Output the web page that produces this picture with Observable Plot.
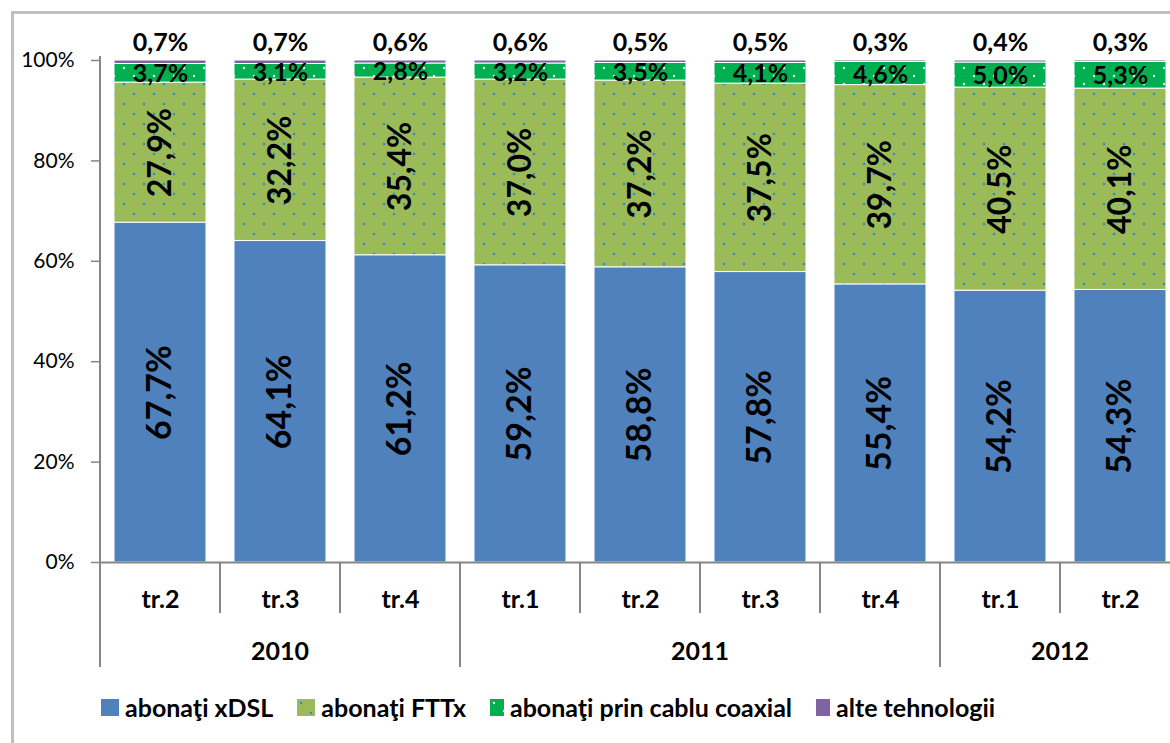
<!DOCTYPE html>
<html><head><meta charset="utf-8">
<script src="https://cdn.jsdelivr.net/npm/d3@7"></script>
<script src="https://cdn.jsdelivr.net/npm/@observablehq/plot@0.6"></script>
<style>
body{margin:0;background:#fff;font-family:Lato,"Open Sans",sans-serif;}
#wrap{position:relative;width:1170px;height:743px;overflow:hidden;background:#fff}
#frame{position:absolute;left:11px;top:11px;width:1220px;height:800px;border:3px solid #bfbfbf;box-sizing:border-box;pointer-events:none}
#chart{position:absolute;left:0;top:0}
#legend{position:absolute;top:692px;left:101px;height:30px;display:flex;align-items:center;gap:24px;font-weight:bold;font-size:25px;color:#000;white-space:nowrap}
.item{display:flex;align-items:center;gap:6px}
.item svg{display:block}
</style></head>
<body><div id="wrap"><div id="chart"></div><div id="legend"></div><div id="frame"></div></div>
<script>
// ---- data ----
const years = ["2010","2010","2010","2011","2011","2011","2011","2012","2012"];
const quarters = ["tr.2","tr.3","tr.4","tr.1","tr.2","tr.3","tr.4","tr.1","tr.2"];
const series = ["abonaţi xDSL","abonaţi FTTx","abonaţi prin cablu coaxial","alte tehnologii"];
const xdsl  = [67.7,64.1,61.2,59.2,58.8,57.8,55.4,54.2,54.3];
const fttx  = [27.9,32.2,35.4,37.0,37.2,37.5,39.7,40.5,40.1];
const coax  = [3.7,3.1,2.8,3.2,3.5,4.1,4.6,5.0,5.3];
const other = [0.7,0.7,0.6,0.6,0.5,0.5,0.3,0.4,0.3];
const yTicks = [0,0.2,0.4,0.6,0.8,1];
const seriesFill = ["#4f81bd","url(#pFttx)","url(#pCoax)","#8064a2"];

// ---- derived table ----
const keys = years.map((y,i) => y + " " + quarters[i]);
const valuesBySeries = [xdsl, fttx, coax, other];
const fmt = v => v.toFixed(1).replace(".", ",") + "%";
const rows = [];
keys.forEach((k,i) => {
  const total = valuesBySeries.reduce((s,arr) => s + arr[i], 0);
  let cum = 0;
  series.forEach((s,j) => {
    const v = valuesBySeries[j][i];
    rows.push({key:k, series:s, value:v, label:fmt(v), mid:(cum + v/2)/total, top:(cum + v)/total});
    cum += v;
  });
});
const bySeries = s => rows.filter(r => r.series === s);

const chart = Plot.plot({
  width: 1170, height: 680,
  marginLeft: 100, marginRight: 0, marginTop: 60, marginBottom: 118,
  style: {fontFamily: "Lato, 'Open Sans', sans-serif", background: "transparent", overflow: "visible"},
  x: {type: "band", domain: keys, range: [100, 1180], paddingInner: 0.233, paddingOuter: 0.1165},
  y: {domain: [0, 1]},
  color: {type: "ordinal", domain: series, range: seriesFill},
  marks: [
    Plot.barY(rows, Plot.stackY({x: "key", y: "value", fill: "series", order: series, offset: "normalize", stroke: "white", strokeWidth: 1})),
    Plot.ruleY([0], {stroke: "#868686", strokeWidth: 2}),
    Plot.axisY({ticks: yTicks, tickFormat: d => Math.round(d*100) + "%", tickSize: 9, tickPadding: 17, fontSize: 21, stroke: "#868686", strokeWidth: 1.5, fill: "#000", label: null}),
    Plot.axisX({tickSize: 0, tickPadding: 28, fontSize: 25, fontWeight: "bold", fill: "#000", tickFormat: k => quarters[keys.indexOf(k)], label: null}),
    Plot.text(bySeries(series[0]), {x: "key", y: "mid", text: "label", rotate: -90, fontSize: 34, fontWeight: "bold"}),
    Plot.text(bySeries(series[1]), {x: "key", y: "mid", text: "label", rotate: -90, fontSize: 32, fontWeight: "bold"}),
    Plot.text(bySeries(series[2]), {x: "key", y: "mid", text: "label", dy: 1, fontSize: 25, fontWeight: "bold"}),
    Plot.text(bySeries(series[3]), {x: "key", y: "top", text: "label", dy: -18, fontSize: 25, fontWeight: "bold"})
  ]
});

// patterns
const svg = d3.select(chart);
const defs = svg.insert("defs", ":first-child");
const p1 = defs.append("pattern").attr("id","pFttx").attr("width",20).attr("height",20).attr("patternUnits","userSpaceOnUse");
p1.append("rect").attr("width",20).attr("height",20).attr("fill","#9bbb59");
p1.append("circle").attr("cx",4).attr("cy",4).attr("r",1.3).attr("fill","#3a87c8");
p1.append("circle").attr("cx",14).attr("cy",14).attr("r",1.3).attr("fill","#3a87c8");
const p2 = defs.append("pattern").attr("id","pCoax").attr("width",20).attr("height",16).attr("patternUnits","userSpaceOnUse");
p2.append("rect").attr("width",20).attr("height",16).attr("fill","#00b050");
p2.append("circle").attr("cx",4).attr("cy",4).attr("r",1.2).attr("fill","#e8f8ee");
p2.append("circle").attr("cx",14).attr("cy",12).attr("r",1.2).attr("fill","#e8f8ee");

// category axis furniture (separators, years) from Plot's scales
const xs = chart.scale("x"), ys = chart.scale("y");
const half = (xs.step - xs.bandwidth) / 2;
const boundary = i => i < keys.length ? xs.apply(keys[i]) - half : xs.apply(keys[keys.length-1]) + xs.bandwidth + half;
const y0 = ys.apply(0), y1 = ys.apply(1);
const g = svg.append("g").attr("stroke", "#868686").attr("stroke-width", 2);
g.append("line").attr("x1", boundary(0)).attr("x2", boundary(0)).attr("y1", y1 - 4).attr("y2", y0);
const groups = [];
years.forEach((y,i) => { if (!groups.length || groups[groups.length-1].year !== y) groups.push({year:y, start:i, end:i}); else groups[groups.length-1].end = i; });
groups.forEach(gr => {
  for (let i = gr.start + 1; i <= gr.end; i++)
    g.append("line").attr("x1", boundary(i)).attr("x2", boundary(i)).attr("y1", y0).attr("y2", y0 + 51);
  [gr.start, gr.end + 1].forEach(i =>
    g.append("line").attr("x1", boundary(i)).attr("x2", boundary(i)).attr("y1", y0).attr("y2", y0 + 105));
  svg.append("text").attr("x", (boundary(gr.start) + boundary(gr.end + 1)) / 2).attr("y", y0 + 98)
    .attr("text-anchor", "middle").attr("font-size", 25).attr("font-weight", "bold").attr("fill", "#000").text(gr.year);
});

document.getElementById("chart").appendChild(chart);

// legend
const swW = [18, 18, 14, 14];
const legend = d3.select("#legend");
series.forEach((s,j) => {
  const it = legend.append("div").attr("class","item");
  const sw = it.append("svg").attr("width", swW[j]).attr("height", 17);
  sw.append("rect").attr("width", swW[j]).attr("height", 17).attr("fill", seriesFill[j]);
  it.append("span").text(s);
});
</script>
</body></html>
